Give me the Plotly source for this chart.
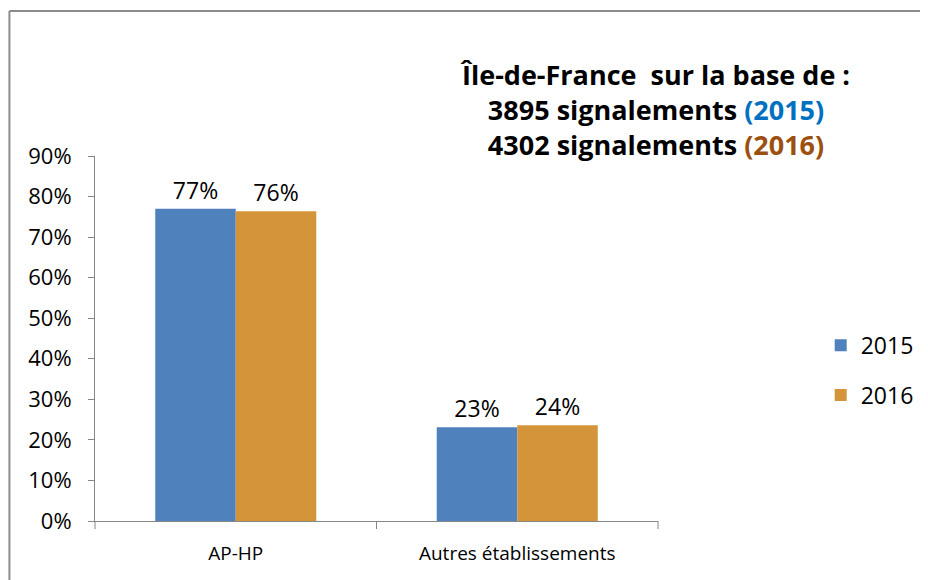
import plotly.graph_objects as go

categories = ["AP-HP", "Autres établissements"]
series_names = ["2015", "2016"]
values_2015 = [0.77, 0.231]
values_2016 = [0.764, 0.236]
tick_vals = [0, 0.1, 0.2, 0.3, 0.4, 0.5, 0.6, 0.7, 0.8, 0.9]
tick_text = ["0%", "10%", "20%", "30%", "40%", "50%", "60%", "70%", "80%", "90%"]

colors = ["#4F81BD", "#D4943A"]
FONT = "Open Sans"

fig = go.Figure()
for name, vals, col in zip(series_names, [values_2015, values_2016], colors):
    fig.add_trace(go.Bar(
        x=categories, y=vals, name=name, legendgroup=name,
        marker=dict(color=col, line=dict(width=0)),
        texttemplate="%{y:.0%}", textposition="outside",
        textfont=dict(size=23, color="#000000", family=FONT),
        cliponaxis=False,
    ))

frame = dict(color="#8C8C8C", width=2)
tick_line = dict(color="#868686", width=1)

# page body adds an 8px offset; margins compensate
fig.update_layout(
    width=928, height=580,
    margin=dict(l=87, r=278, t=148, b=67),
    paper_bgcolor="white", plot_bgcolor="white",
    barmode="group", bargap=0.428, bargroupgap=0,
    font=dict(family=FONT, color="#000000"),
    showlegend=True,
    legend=dict(x=1.289, y=0.413, xanchor="left", yanchor="middle",
                font=dict(size=23, family=FONT), tracegroupgap=17,
                itemwidth=30, bgcolor="rgba(0,0,0,0)"),
    xaxis=dict(showline=True, linecolor="#868686", linewidth=1,
               ticks="outside", ticklen=0, tickfont=dict(size=19, family=FONT),
               showgrid=False, ticklabelstandoff=15),
    yaxis=dict(range=[0, 0.9], tickvals=tick_vals, ticktext=tick_text,
               showline=True, linecolor="#868686", linewidth=1,
               ticks="outside", ticklen=6, tickcolor="#868686",
               tickfont=dict(size=22, family=FONT), showgrid=False,
               zeroline=False, ticklabelstandoff=12),
    annotations=[dict(
        xref="paper", yref="paper", x=0.995, y=1.127, xanchor="center", yanchor="middle",
        showarrow=False, align="center",
        text=("<b>Île-de-France  sur la base de :</b><br>"
              "<b>3895 signalements <span style='color:#0070C0'>(2015)</span></b><br>"
              "<b>4302 signalements <span style='color:#9C4F0E'>(2016)</span></b>"),
        font=dict(size=27, family=FONT, color="#000000"),
    )],
    shapes=[
        dict(type="line", xref="paper", yref="paper", x0=-0.152, x1=1.7, y0=1.397, y1=1.397,
             line=frame, layer="below"),
        dict(type="line", xref="paper", yref="paper", x0=-0.152, x1=-0.152, y0=-0.3, y1=1.397,
             line=frame, layer="below"),
        dict(type="line", xref="paper", yref="paper", x0=0, x1=0, y0=0, y1=-0.022, line=tick_line),
        dict(type="line", xref="paper", yref="paper", x0=0.5, x1=0.5, y0=0, y1=-0.022, line=tick_line),
        dict(type="line", xref="paper", yref="paper", x0=1, x1=1, y0=0, y1=-0.022, line=tick_line),
    ],
)

fig.write_html("out.html")
